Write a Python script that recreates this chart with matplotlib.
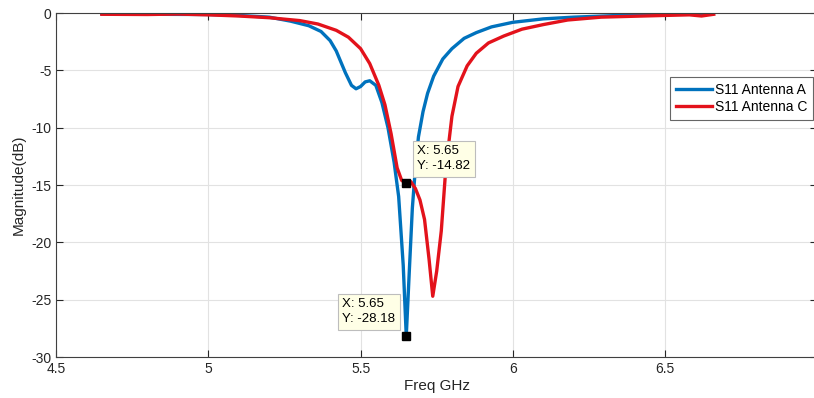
import matplotlib
matplotlib.use("Agg")
import matplotlib.pyplot as plt

plt.rcParams['font.family'] = ['Liberation Sans', 'DejaVu Sans']
plt.rcParams['axes.unicode_minus'] = False

# S11 of antenna A
freq_a = [4.65, 4.8, 5.0, 5.1, 5.2, 5.27, 5.33, 5.37, 5.40, 5.42, 5.45, 5.47, 5.485,
          5.50, 5.515, 5.53, 5.55, 5.57, 5.59, 5.61, 5.625, 5.64, 5.65, 5.66, 5.67,
          5.68, 5.69, 5.705, 5.72, 5.74, 5.77, 5.80, 5.84, 5.88, 5.93, 6.0, 6.1, 6.2,
          6.35, 6.5, 6.65]
s11_a = [-0.05, -0.1, -0.12, -0.2, -0.35, -0.7, -1.1, -1.6, -2.4, -3.3, -5.2, -6.3, -6.6,
         -6.4, -6.0, -5.9, -6.3, -7.8, -10.0, -13.0, -16.0, -22.0, -28.18, -22.5, -17.0,
         -13.5, -10.8, -8.6, -7.0, -5.5, -4.0, -3.1, -2.2, -1.7, -1.2, -0.8, -0.5, -0.35,
         -0.2, -0.1, -0.05]

# S11 of antenna C
freq_c = [4.65, 4.8, 4.9, 5.0, 5.1, 5.2, 5.3, 5.36, 5.42, 5.46, 5.5, 5.53, 5.56, 5.58,
          5.60, 5.62, 5.635, 5.65, 5.665, 5.68, 5.695, 5.71, 5.725, 5.737, 5.75, 5.765,
          5.78, 5.80, 5.82, 5.85, 5.88, 5.92, 5.97, 6.03, 6.1, 6.18, 6.29, 6.4, 6.5,
          6.58, 6.62, 6.66]
s11_c = [-0.1, -0.12, -0.08, -0.15, -0.25, -0.4, -0.65, -0.95, -1.5, -2.1, -3.1, -4.4,
         -6.3, -8.0, -10.5, -13.5, -14.6, -14.82, -14.7, -15.3, -16.3, -18.0, -21.5,
         -24.7, -22.5, -19.0, -13.5, -9.0, -6.4, -4.6, -3.5, -2.6, -2.0, -1.4, -1.0,
         -0.6, -0.35, -0.27, -0.2, -0.15, -0.25, -0.1]

# data tips
tip_x = [5.65, 5.65]
tip_y = [-14.82, -28.18]

fig = plt.figure(figsize=(8.14, 3.98), dpi=100)
ax = fig.add_axes([0.069, 0.103, 0.935, 0.864])

ax.plot(freq_a, s11_a, color='#0072BD', lw=2.4, label='S11 Antenna A')
ax.plot(freq_c, s11_c, color='#E3121B', lw=2.4, label='S11 Antenna C')

ax.set_xlim(4.5, 7)
ax.set_ylim(-30, 0)
ax.set_xticks([4.5, 5, 5.5, 6, 6.5])
ax.set_yticks([-30, -25, -20, -15, -10, -5, 0])
ax.set_xticklabels(['4.5', '5', '5.5', '6', '6.5'])
ax.grid(True, color='#e2e2e2', lw=0.8)
ax.set_axisbelow(True)
ax.tick_params(direction='in', top=True, right=True, labelsize=10,
               colors='#262626', length=5)
for s in ax.spines.values():
    s.set_color('#404040')
    s.set_linewidth(0.8)

ax.set_xlabel('Freq GHz', fontsize=11, color='#262626', labelpad=2)
ax.set_ylabel('Magnitude(dB)', fontsize=11, color='#262626', labelpad=4)

# data tip markers and boxes
ax.plot(tip_x, tip_y, 's', color='black', ms=6, zorder=5)
tipbox = dict(boxstyle='square,pad=0.35', fc='#FFFFE6', ec='#bdbdbd', lw=0.8)
ax.annotate('X: %.2f\nY: %.2f' % (tip_x[0], tip_y[0]), (tip_x[0], tip_y[0]),
            xytext=(8, 8), textcoords='offset points', fontsize=9.5,
            va='bottom', ha='left', multialignment='left', bbox=tipbox,
            zorder=6, linespacing=1.3)
ax.annotate('X: %.2f\nY: %.2f' % (tip_x[1], tip_y[1]), (tip_x[1], tip_y[1]),
            xytext=(-8, 8), textcoords='offset points', fontsize=9.5,
            va='bottom', ha='right', multialignment='left', bbox=tipbox,
            zorder=6, linespacing=1.3)

leg = ax.legend(loc='upper right', bbox_to_anchor=(0.995, 0.815), fontsize=10,
                frameon=True, fancybox=False, edgecolor='#404040',
                handlelength=2.6, handletextpad=0.2, borderpad=0.45,
                labelspacing=0.2, borderaxespad=0)
leg.get_frame().set_linewidth(0.8)

fig.savefig('out.png', dpi=100)
